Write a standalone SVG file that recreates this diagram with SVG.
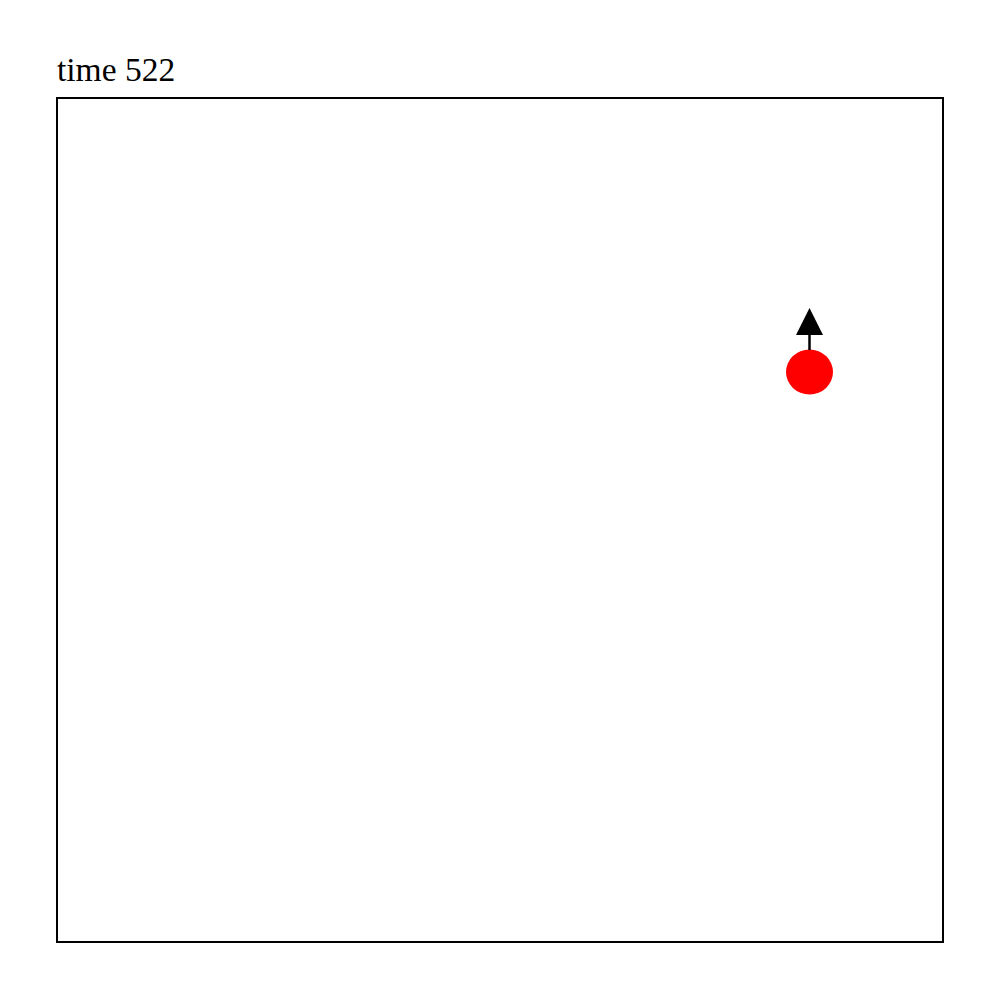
<svg xmlns="http://www.w3.org/2000/svg" width="1000" height="1000" viewBox="0 0 1000 1000">
<style>
.title{font-family:"Liberation Serif","Times New Roman",serif;font-size:33.5px;fill:#000}
</style>
<rect width="1000" height="1000" fill="#fff"/>
<text class="title" x="57" y="80.5">time 522</text>
<rect x="57" y="98" width="886" height="844" fill="none" stroke="#000" stroke-width="2"/>
<g id="agent">
<ellipse cx="809.5" cy="372" rx="23.5" ry="22.5" fill="#ff0000"/>
</g>
<g id="connectors">
<line x1="809.5" y1="350" x2="809.5" y2="334" stroke="#000" stroke-width="2.5"/>
<polygon points="809.5,308 796,335 823,335" fill="#000"/>
</g>
</svg>
